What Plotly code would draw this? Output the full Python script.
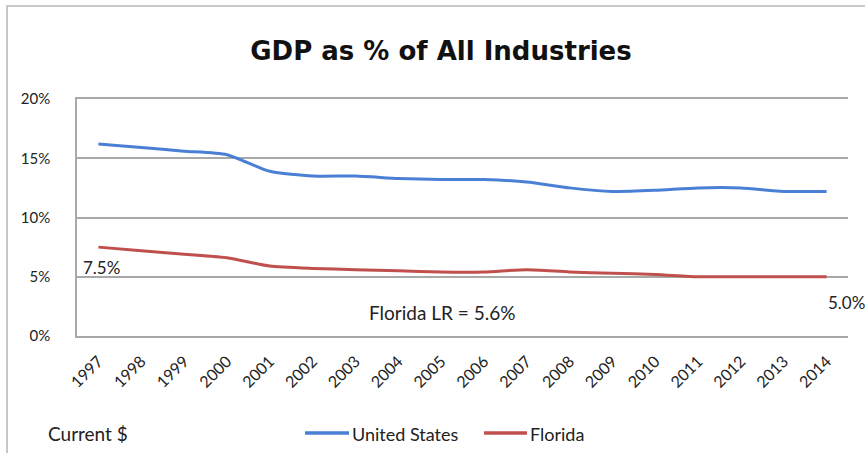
import plotly.graph_objects as go

years = [str(y) for y in range(1997, 2015)]
us_share = [16.2, 15.9, 15.6, 15.3, 13.9, 13.5, 13.5, 13.3, 13.2, 13.2, 13.0, 12.5, 12.2, 12.3, 12.5, 12.5, 12.2, 12.2]
fl_share = [7.5, 7.2, 6.9, 6.6, 5.9, 5.7, 5.6, 5.5, 5.4, 5.4, 5.6, 5.4, 5.3, 5.2, 5.0, 5.0, 5.0, 5.0]
y_ticks = [0, 5, 10, 15, 20]
y_tick_text = ["0%", "5%", "10%", "15%", "20%"]
series_names = ["United States", "Florida"]

W, H = 865, 453
L, R, T, B = 77, 17, 99, 117
pw, ph = W - L - R, H - T - B


def px_x(x):
    return (x - L) / pw


def px_y(y):
    return (H - B - y) / ph


FONT = "Lato"
TEXT = "#222"
GRID = "#a8a8a8"
US_BLUE = "#4a7fd6"
FL_RED = "#c0504d"

fig = go.Figure()
for name, vals, col in [(series_names[0], us_share, US_BLUE), (series_names[1], fl_share, FL_RED)]:
    fig.add_trace(go.Scatter(x=years, y=vals, mode="lines", name=name, showlegend=False,
                             line=dict(color=col, width=3, shape="spline", smoothing=0.6)))

fig.update_layout(
    width=W, height=H,
    margin=dict(l=L, r=R, t=T, b=B),
    paper_bgcolor="white", plot_bgcolor="white",
    font=dict(family=FONT, size=18, color=TEXT),
    title=dict(text="<b>GDP as % of All Industries</b>", x=px_x(441), xanchor="center",
               xref="paper", y=1 - 51 / H, yanchor="middle",
               font=dict(family="DejaVu Sans", size=26, color="#111")),
    showlegend=False,
    xaxis=dict(type="category", range=[-0.5, 17.5], tickangle=-45, showgrid=False,
               zeroline=False, showline=True, mirror=True, linecolor=GRID, linewidth=1.5,
               ticks="", ticklabelstandoff=8, tickfont=dict(family=FONT, size=16, color=TEXT)),
    yaxis=dict(range=[0, 20], tickvals=y_ticks, ticktext=y_tick_text, showgrid=True,
               gridcolor=GRID, gridwidth=1.5, zeroline=False, showline=True,
               linecolor=GRID, linewidth=1.5, ticks="", ticklabelstandoff=22,
               tickfont=dict(family=FONT, size=15, color=TEXT)),
)

# Data callouts for the first and last Florida values
fig.add_annotation(x=0, y=fl_share[0], text=f"{fl_share[0]:.1f}%", showarrow=False,
                   xanchor="left", yanchor="middle", xshift=-17, yshift=-20,
                   font=dict(family=FONT, size=17, color=TEXT))
fig.add_annotation(x=len(years) - 1, y=fl_share[-1], text=f"{fl_share[-1]:.1f}%", showarrow=False,
                   xanchor="left", yanchor="middle", xshift=-1, yshift=-26,
                   font=dict(family=FONT, size=17, color=TEXT))
fig.add_annotation(xref="paper", yref="paper", x=px_x(442), y=px_y(312),
                   text="Florida LR = 5.6%", showarrow=False, xanchor="center", yanchor="middle",
                   font=dict(family=FONT, size=19, color=TEXT))
fig.add_annotation(xref="paper", yref="paper", x=px_x(46), y=px_y(433),
                   text="Current $", showarrow=False, xanchor="left", yanchor="middle",
                   font=dict(family=FONT, size=19, color=TEXT))

# Legend: colour sample line followed by the series name
legend_items = [(series_names[0], US_BLUE, 305, 349), (series_names[1], FL_RED, 484, 527)]
for name, col, lx0, lx1 in legend_items:
    fig.add_shape(type="line", xref="paper", yref="paper",
                  x0=px_x(lx0), x1=px_x(lx1), y0=px_y(433), y1=px_y(433),
                  line=dict(color=col, width=3.5))
    fig.add_annotation(xref="paper", yref="paper", x=px_x(lx1 + 1), y=px_y(434),
                       text=name, showarrow=False, xanchor="left", yanchor="middle",
                       font=dict(family=FONT, size=18, color=TEXT))

# Outer chart frame
fig.add_shape(type="rect", xref="paper", yref="paper",
              x0=px_x(7), x1=px_x(880), y0=px_y(470), y1=px_y(6),
              line=dict(color="#c8c8c8", width=2), layer="below")

fig.write_html("out.html")
